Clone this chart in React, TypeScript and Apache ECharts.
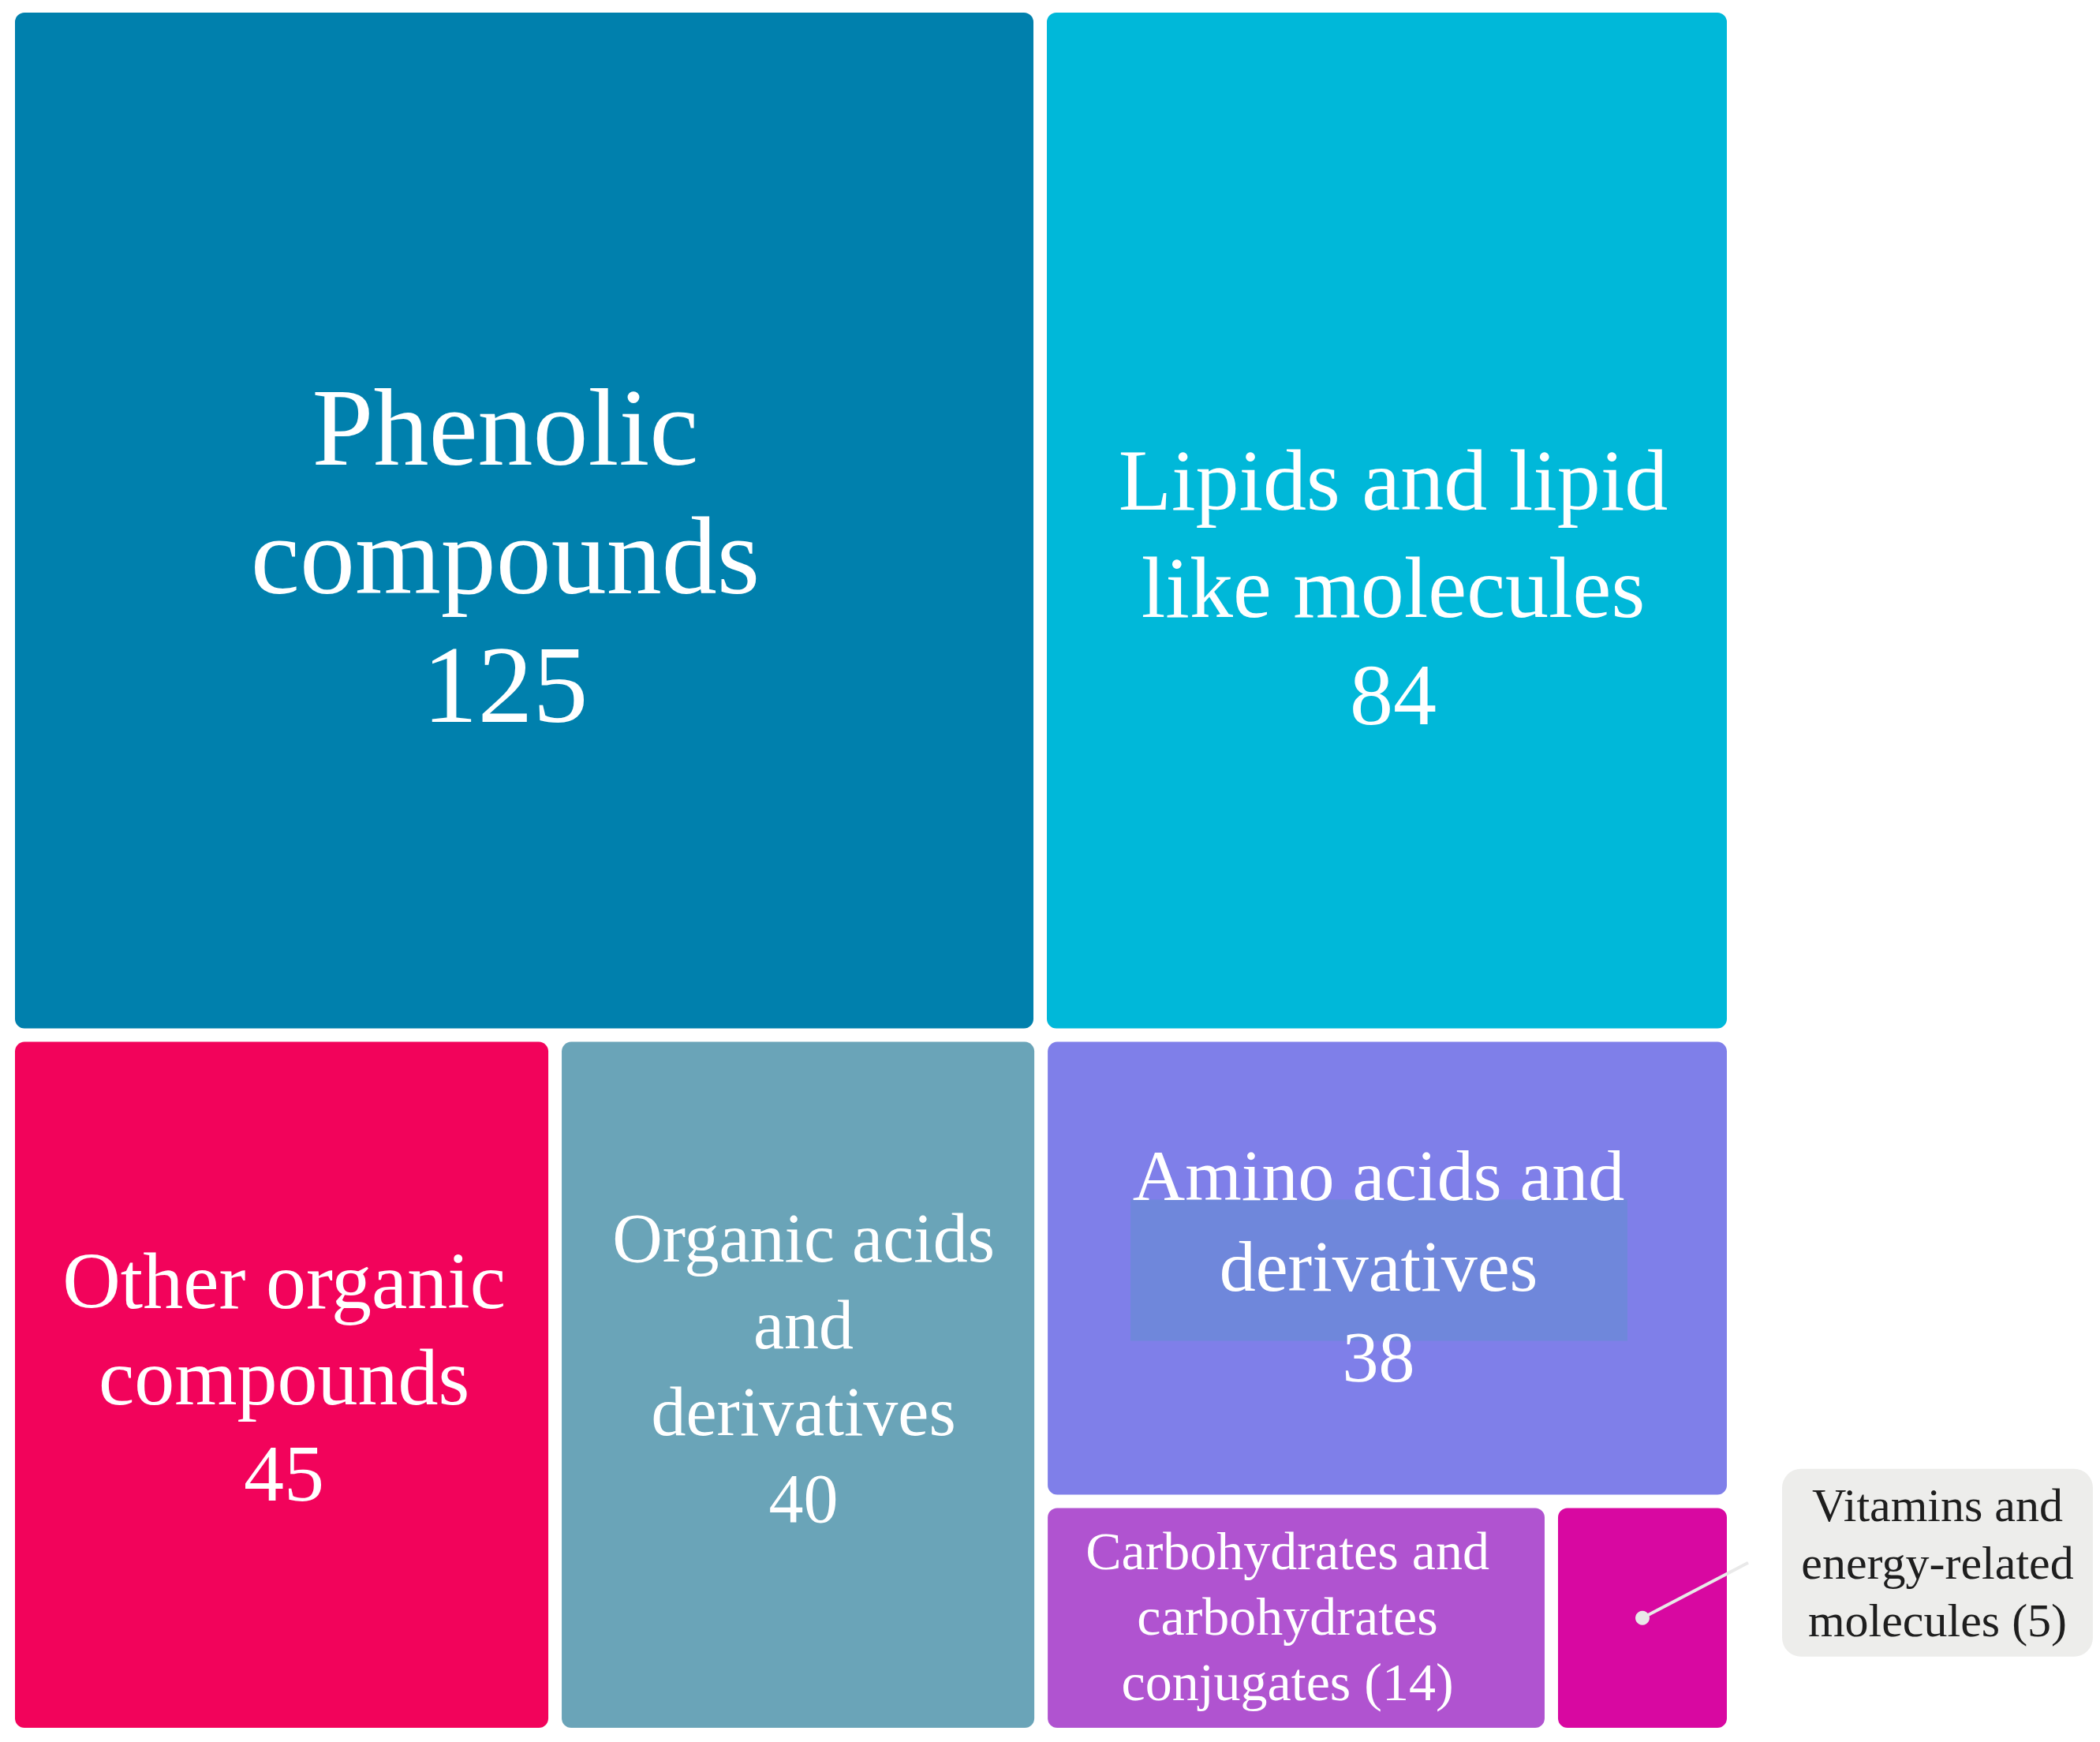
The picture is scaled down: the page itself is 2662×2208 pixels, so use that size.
import React, { useEffect, useRef } from "react";
import * as echarts from "echarts";

// ---- data ----
const categories = [
  "Phenolic compounds",
  "Lipids and lipid like molecules",
  "Other organic compounds",
  "Organic acids and derivatives",
  "Amino acids and derivatives",
  "Carbohydrates and carbohydrates conjugates",
  "Vitamins and energy-related molecules",
];
const counts = [125, 84, 45, 40, 38, 14, 5];
const wrappedNames = [
  "Phenolic\ncompounds",
  "Lipids and lipid\nlike molecules",
  "Other organic\ncompounds",
  "Organic acids\nand\nderivatives",
  "Amino acids and\nderivatives",
  "Carbohydrates and\ncarbohydrates\nconjugates",
  "Vitamins and\nenergy-related\nmolecules",
];
const valueInParens = [false, false, false, false, false, true, true];
const calloutCategories = ["Vitamins and energy-related molecules"];
const highlightedCategories = ["Amino acids and derivatives"];

// ---- styles ----
const colors = ["#0080AD", "#00B8D9", "#F2035B", "#6AA4B8", "#7F7FE9", "#B053D0", "#D808A1"];
const fontSizes = [140, 110, 102, 88, 92, 68, 60];
const lineHeights = [163, 136, 122, 110, 115, 83, 73];
const labelShiftX = [-24, 8, 3, 7, -11, -11, 0];
const labelShiftY = [45, 85, -10, -21, -3, -2, 0];
const FONT = "'Liberation Serif', 'DejaVu Serif', serif";

function labelText(i: number): string {
  return valueInParens[i]
    ? `${wrappedNames[i]} (${counts[i]})`
    : `${wrappedNames[i]}\n${counts[i]}`;
}

export default function App() {
  const ref = useRef<HTMLDivElement>(null);
  useEffect(() => {
    if (!ref.current) return;
    const chart = echarts.init(ref.current, undefined, { renderer: "svg" });
    const data = categories.map((name, i) => ({
      name,
      value: counts[i],
      itemStyle: { color: colors[i] },
      label: calloutCategories.includes(name)
        ? { show: false }
        : {
            show: true,
            fontSize: fontSizes[i],
            lineHeight: lineHeights[i],
            offset: [labelShiftX[i], labelShiftY[i]],
          },
    }));
    chart.setOption({
      animation: false,
      tooltip: { show: false },
      series: [
        {
          type: "treemap",
          z: 2,
          zlevel: 0,
          left: 19,
          top: 16,
          width: 2170,
          height: 2174,
          squareRatio: 1,
          sort: "desc",
          roam: false,
          nodeClick: false,
          silent: true,
          breadcrumb: { show: false },
          itemStyle: { gapWidth: 17, borderWidth: 0, borderRadius: 12, borderColor: "#fff" },
          upperLabel: { show: false },
          label: {
            show: true,
            position: "inside",
            color: "#ffffff",
            fontFamily: FONT,
            fontWeight: "normal",
            overflow: "none",
            align: "center",
            verticalAlign: "middle",
            formatter: (p: any) => {
              const i = categories.indexOf(p.name);
              return i >= 0 ? labelText(i) : "";
            },
          },
          data,
        },
      ],
    });

    // Annotations placed from the treemap's own computed layout
    try {
      const sm: any = (chart as any).getModel().getSeriesByIndex(0);
      const tree = sm.getData().tree;
      const info = sm.layoutInfo || { x: 19, y: 16 };
      const rl = tree.root.getLayout() || { x: 0, y: 0 };
      const abs = (name: string) => {
        const n = tree.root.children.find((c: any) => c.name === name);
        const l = n.getLayout();
        return { x: info.x + (rl.x || 0) + l.x, y: info.y + (rl.y || 0) + l.y, w: l.width, h: l.height };
      };
      // find stacking of the series' label vs its rect, to slot a band between them
      let zInfo = { z: 2, zlevel: 0, z2: 12 };
      try {
        const zr: any = (chart as any).getZr();
        const list: any[] = zr.storage.getDisplayList(true);
        const lbl = list.find(
          (el) => el && el.style && typeof el.style.text === "string" && el.style.text.indexOf("Amino") === 0
        );
        if (lbl) {
          const host = lbl.__hostTarget;
          const hz2 = host ? host.z2 : lbl.z2 - 1;
          zInfo = { z: lbl.z, zlevel: lbl.zlevel || 0, z2: (hz2 + lbl.z2) / 2 };
        }
      } catch (e) {
        // keep defaults
      }
      const graphics: any[] = [];
      highlightedCategories.forEach((name) => {
        const a = abs(name);
        graphics.push({
          type: "rect",
          z: zInfo.z,
          zlevel: zInfo.zlevel,
          z2: zInfo.z2,
          silent: true,
          shape: { x: a.x + 105, y: a.y + 200, width: a.w - 231, height: 179 },
          style: { fill: "#6F87DB" },
        });
      });
      calloutCategories.forEach((name) => {
        const i = categories.indexOf(name);
        const a = abs(name);
        const cx = a.x + a.w / 2;
        const cy = a.y + a.h / 2;
        const right = a.x + a.w;
        const boxW = 394;
        const boxH = 238;
        const boxX = right + 70;
        const boxCY = cy - 70;
        graphics.push(
          {
            type: "line",
            z: 10,
            silent: true,
            shape: { x1: cx, y1: cy, x2: right + 27, y2: boxCY },
            style: { stroke: "#E9E9E9", lineWidth: 4 },
          },
          {
            type: "circle",
            z: 10,
            silent: true,
            shape: { cx, cy, r: 9 },
            style: { fill: "#E9E9E9" },
          },
          {
            type: "rect",
            z: 10,
            silent: true,
            shape: { x: boxX, y: boxCY - boxH / 2, width: boxW, height: boxH, r: 24 },
            style: { fill: "#EDEDEB" },
          },
          {
            type: "text",
            z: 11,
            silent: true,
            x: boxX + boxW / 2,
            y: boxCY,
            style: {
              text: labelText(i),
              fill: "#1E1E1E",
              fontSize: 60,
              fontFamily: FONT,
              lineHeight: 73,
              align: "center",
              verticalAlign: "middle",
            },
          }
        );
      });
      chart.setOption({ graphic: graphics });
    } catch (e) {
      // ignore
    }

    return () => chart.dispose();
  }, []);
  return (
    <div
      ref={ref}
      style={{ position: "absolute", left: 0, top: 0, width: 2662, height: 2208, background: "#fff" }}
    />
  );
}
